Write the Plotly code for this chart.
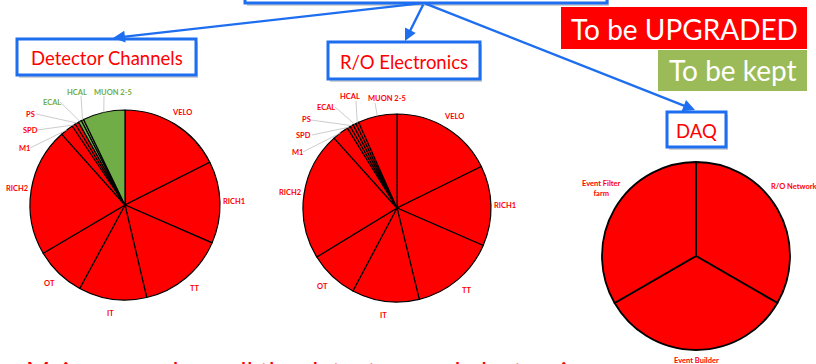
import math
import plotly.graph_objects as go

W, H = 816, 364

# ---- data ---------------------------------------------------------------
det_labels = ["VELO", "RICH1", "TT", "IT", "OT", "RICH2", "M1", "SPD", "PS",
              "ECAL", "HCAL", "MUON 2-5"]
# relative share of detector channels (degrees of the pie)
det_values = [63.3, 50.2, 53.3, 41.7, 31.0, 78.7, 8.1, 2.2, 2.2, 2.0, 1.5, 25.8]
# which sub-systems get upgraded (True) or are kept (False)
det_upgrade = [True, True, True, True, True, True, True, True, True,
               False, False, False]

ro_labels = ["VELO", "RICH1", "TT", "IT", "OT", "RICH2", "M1", "SPD", "PS",
             "ECAL", "HCAL", "MUON 2-5"]
# relative share of read-out electronics
ro_values = [63.8, 49.7, 52.8, 41.7, 30.6, 79.4, 10.2, 2.0, 2.0, 1.9, 1.8, 24.1]
ro_upgrade = [True] * 12

daq_labels = ["R/O Network", "Event Builder", "Event Filter<br>farm"]
daq_values = [1, 1, 1]
daq_upgrade = [True, True, True]

RED = "#FF0000"
GREEN = "#70AD47"
KEPT = "#9BBB59"
BLUE = "#1E6EF0"
FONT = "Lato"


def px(x):
    return x / W


def py(y):
    return 1 - y / H


fig = go.Figure()
annotations = []
shapes = []

# pie geometry: (centre x, centre y, radius) in pixels.
# "fixed" holds hand-placed label positions (x, y, leader-line start x or None)
pies = [
    dict(labels=det_labels, values=det_values, up=det_upgrade, c=(125, 205), r=95, lw=1.2,
         fixed={"M1": (24, 148, 30), "SPD": (30, 130, 37), "PS": (31, 114, 36),
                "ECAL": (52, 102, 60), "HCAL": (77, 92, 81), "MUON 2-5": (113, 92, 104)}),
    dict(labels=ro_labels, values=ro_values, up=ro_upgrade, c=(397, 208), r=94, lw=1.2,
         fixed={"M1": (297, 152, 303), "SPD": (303, 135, 312), "PS": (306, 120, 311),
                "ECAL": (326, 107, 335), "HCAL": (350, 97, 356), "MUON 2-5": (387, 99, 375)}),
    dict(labels=daq_labels, values=daq_values, up=daq_upgrade, c=(696, 256), r=94, lw=1.8,
         fixed={"R/O Network": (794, 187, None), "Event Builder": (696, 360, None),
                "Event Filter<br>farm": (601, 188, None)}),
]

for p in pies:
    cx, cy = p["c"]
    r = p["r"]
    colors = [RED if u else GREEN for u in p["up"]]
    fig.add_trace(go.Pie(
        labels=p["labels"], values=p["values"], sort=False, direction="clockwise",
        rotation=0, textinfo="none", hoverinfo="label+value",
        marker=dict(colors=colors, line=dict(color="black", width=p["lw"])),
        domain=dict(x=[px(cx - r), px(cx + r)], y=[py(cy + r), py(cy - r)]),
    ))
    total = sum(p["values"])
    acc = 0.0
    for lab, val, col in zip(p["labels"], p["values"], colors):
        mid = (acc + val / 2) / total * 2 * math.pi
        acc += val
        ex, ey = cx + r * math.sin(mid), cy - r * math.cos(mid)
        if lab in p["fixed"]:
            tx, ty, lx = p["fixed"][lab]
            if lx is not None:
                ly = ty + (4 if lab in ("HCAL", "MUON 2-5") else 0)
                shapes.append(dict(type="line", xref="paper", yref="paper",
                                   x0=px(lx), y0=py(ly), x1=px(ex), y1=py(ey),
                                   line=dict(color="#BFBFBF", width=0.8)))
        else:
            rr = r + 14
            tx, ty = cx + rr * math.sin(mid), cy - rr * math.cos(mid)
        annotations.append(dict(
            x=px(tx), y=py(ty), xref="paper", yref="paper", text="<b>%s</b>" % lab,
            showarrow=False, xanchor="center", yanchor="middle",
            font=dict(family=FONT, size=7.5, color=col)))


def box(x0, y0, x1, y1, text, size):
    # soft drop shadow, then the blue frame
    shapes.append(dict(type="rect", xref="paper", yref="paper",
                       x0=px(x0 + 2), y0=py(y1 + 3), x1=px(x1 + 2), y1=py(y0 + 3),
                       line=dict(width=0), fillcolor="rgba(0,0,0,0.18)", layer="below"))
    shapes.append(dict(type="rect", xref="paper", yref="paper",
                       x0=px(x0), y0=py(y1), x1=px(x1), y1=py(y0),
                       line=dict(color=BLUE, width=3), fillcolor="white", layer="below"))
    if text:
        annotations.append(dict(x=px((x0 + x1) / 2), y=py((y0 + y1) / 2 + 1),
                                xref="paper", yref="paper", text=text, showarrow=False,
                                xanchor="center", yanchor="middle",
                                font=dict(family=FONT, size=size, color=RED)))


box(245, -30, 607, 3, "", 0)
box(17, 39, 196, 75, "Detector Channels", 18.5)
box(328, 42, 480, 79, "R/O Electronics", 18.5)
box(667, 112, 726, 147, "DAQ", 18.5)

# arrows from the top box down to the three categories
for ex, ey in [(113, 38), (405, 41), (695, 110)]:
    sx, sy = 424, 3
    annotations.append(dict(x=px(ex), y=py(ey), xref="paper", yref="paper",
                            ax=sx - ex, ay=sy - ey, text="", showarrow=True,
                            arrowhead=2, arrowsize=1, arrowwidth=2.4, arrowcolor=BLUE))

# legend boxes
shapes.append(dict(type="rect", xref="paper", yref="paper", x0=px(561), y0=py(49),
                   x1=px(807), y1=py(7), line=dict(width=0), fillcolor=RED))
shapes.append(dict(type="rect", xref="paper", yref="paper", x0=px(658), y0=py(91),
                   x1=px(807), y1=py(50), line=dict(width=0), fillcolor=KEPT))
annotations.append(dict(x=px(684), y=py(29), xref="paper", yref="paper",
                        text="To be UPGRADED", showarrow=False, xanchor="center",
                        yanchor="middle", font=dict(family=FONT, size=28, color="white")))
annotations.append(dict(x=px(733), y=py(70), xref="paper", yref="paper",
                        text="To be kept", showarrow=False, xanchor="center",
                        yanchor="middle", font=dict(family=FONT, size=28, color="white")))

# bottom statement, running off the lower edge
annotations.append(dict(x=px(24), y=py(354), xref="paper", yref="paper",
                        text="Major upgrade ➔ all the detectors and electronics",
                        showarrow=False, xanchor="left", yanchor="top",
                        font=dict(family=FONT, size=26, color=RED)))

fig.update_layout(width=W, height=H, margin=dict(l=0, r=0, t=0, b=0),
                  paper_bgcolor="white", plot_bgcolor="white", showlegend=False,
                  annotations=annotations, shapes=shapes)

fig.write_html("out.html")
